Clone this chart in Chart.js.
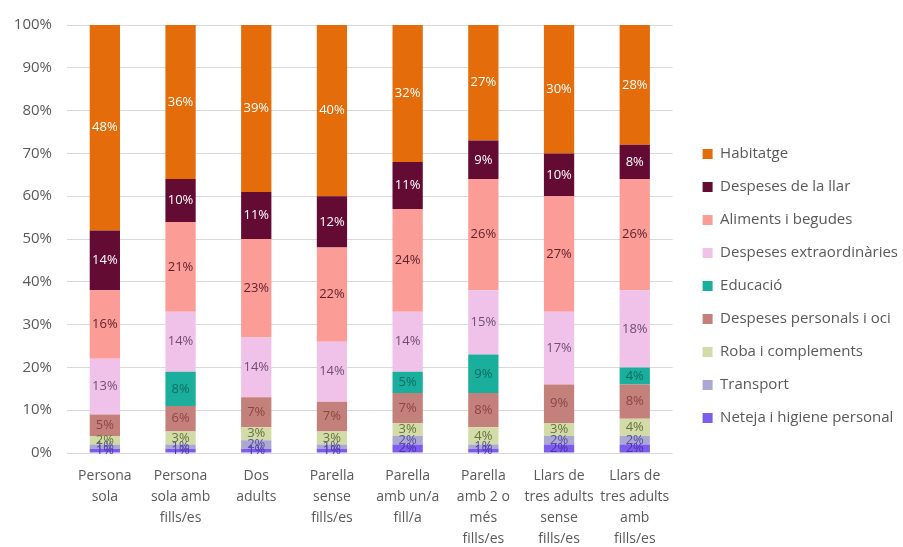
<!DOCTYPE html>
<html>
<head>
<meta charset="utf-8">
<title>Distribució de la despesa per tipus de llar</title>
<script src="https://cdn.jsdelivr.net/npm/chart.js@4.4.1/dist/chart.umd.min.js"></script>
<style>
    html, body { margin: 0; padding: 0; background: #ffffff; }
    #wrap { width: 903px; height: 547px; position: relative; }
</style>
</head>
<body>
<div id="wrap"><canvas id="despesesChart"></canvas></div>
<script>
// tipus de llar (eix x)
const categories = [
    ["Persona", "sola"],
    ["Persona", "sola amb", "fills/es"],
    ["Dos", "adults"],
    ["Parella", "sense", "fills/es"],
    ["Parella", "amb un/a", "fill/a"],
    ["Parella", "amb 2 o", "més", "fills/es"],
    ["Llars de", "tres adults", "sense", "fills/es"],
    ["Llars de", "tres adults", "amb", "fills/es"]
];

// percentatge de cada partida per tipus de llar
const habitatge     = [48, 36, 39, 40, 32, 27, 30, 28];
const despesesLlar  = [14, 10, 11, 12, 11,  9, 10,  8];
const aliments      = [16, 21, 23, 22, 24, 26, 27, 26];
const extraord      = [13, 14, 14, 14, 14, 15, 17, 18];
const educacio      = [ 0,  8,  0,  0,  5,  9,  0,  4];
const personalsOci  = [ 5,  6,  7,  7,  7,  8,  9,  8];
const roba          = [ 2,  3,  3,  3,  3,  4,  3,  4];
const transport     = [ 1,  1,  2,  1,  2,  1,  2,  2];
const neteja        = [ 1,  1,  1,  1,  2,  1,  2,  2];

const yTicks = [0, 10, 20, 30, 40, 50, 60, 70, 80, 90, 100];

// de baix a dalt dins de cada columna
const series = [
    { label: "Neteja i higiene personal", data: neteja,       color: "#7B5CEB", text: "#4B2FB0" },
    { label: "Transport",                 data: transport,    color: "#ABA8D2", text: "#5A4FA0" },
    { label: "Roba i complements",        data: roba,         color: "#D3DCA8", text: "#66743A" },
    { label: "Despeses personals i oci",  data: personalsOci, color: "#C4817C", text: "#8C4545" },
    { label: "Educació",                  data: educacio,     color: "#1AAE9C", text: "#0B6F62" },
    { label: "Despeses extraordinàries",  data: extraord,     color: "#F0C2E9", text: "#6E4F72" },
    { label: "Aliments i begudes",        data: aliments,     color: "#FB9C97", text: "#5C1F2C" },
    { label: "Despeses de la llar",       data: despesesLlar, color: "#630B33", text: "#FFFFFF" },
    { label: "Habitatge",                 data: habitatge,    color: "#E46C0A", text: "#FFFFFF" }
];

const FONT = "'Open Sans', sans-serif";

// etiqueta de valor al centre de cada tram
const valueLabels = {
    id: "valueLabels",
    afterDatasetsDraw(chart) {
        const ctx = chart.ctx;
        ctx.save();
        ctx.font = "13px " + FONT;
        ctx.textAlign = "center";
        ctx.textBaseline = "middle";
        chart.data.datasets.forEach((ds, i) => {
            const meta = chart.getDatasetMeta(i);
            if (meta.hidden) return;
            meta.data.forEach((bar, j) => {
                const v = ds.data[j];
                if (!v) return;
                ctx.fillStyle = series[i].text;
                ctx.fillText(v + "%", bar.x, (bar.y + bar.base) / 2);
            });
        });
        ctx.restore();
    }
};

const ctx = document.getElementById("despesesChart").getContext("2d");

new Chart(ctx, {
    type: "bar",
    data: {
        labels: categories,
        datasets: series.map(s => ({
            label: s.label,
            data: s.data,
            backgroundColor: s.color,
            borderWidth: 0,
            barPercentage: 0.4,
            categoryPercentage: 1.0
        }))
    },
    options: {
        responsive: true,
        maintainAspectRatio: false,
        animation: false,
        layout: { padding: { top: 25, left: 4, right: -5, bottom: 0 } },
        plugins: {
            tooltip: { enabled: false },
            legend: {
                position: "right",
                reverse: true,
                labels: {
                    boxWidth: 10,
                    boxHeight: 10,
                    padding: 18,
                    color: "#595959",
                    font: { family: FONT, size: 15 }
                }
            }
        },
        scales: {
            x: {
                stacked: true,
                grid: { display: false, drawTicks: false },
                border: { display: false },
                ticks: {
                    color: "#595959",
                    maxRotation: 0,
                    autoSkip: false,
                    padding: 13,
                    font: { family: FONT, size: 14, lineHeight: 1.5 }
                },
                // the four-line labels need less room than Chart.js reserves
                afterFit: scale => { scale.height -= 16; }
            },
            y: {
                stacked: true,
                min: 0,
                max: 100,
                afterBuildTicks: axis => { axis.ticks = yTicks.map(v => ({ value: v })); },
                grid: { color: "#D9D9D9", drawTicks: false },
                border: { display: false },
                ticks: {
                    color: "#595959",
                    padding: 15,
                    font: { family: FONT, size: 15 },
                    callback: v => v + "%"
                },
                afterFit: scale => { scale.width = 63; }
            },
            // hidden axis on the right, only keeps a gap before the legend
            gap: {
                position: "right",
                display: false,
                afterFit: scale => { scale.width = 12; }
            }
        }
    },
    plugins: [valueLabels]
});
</script>
</body>
</html>
